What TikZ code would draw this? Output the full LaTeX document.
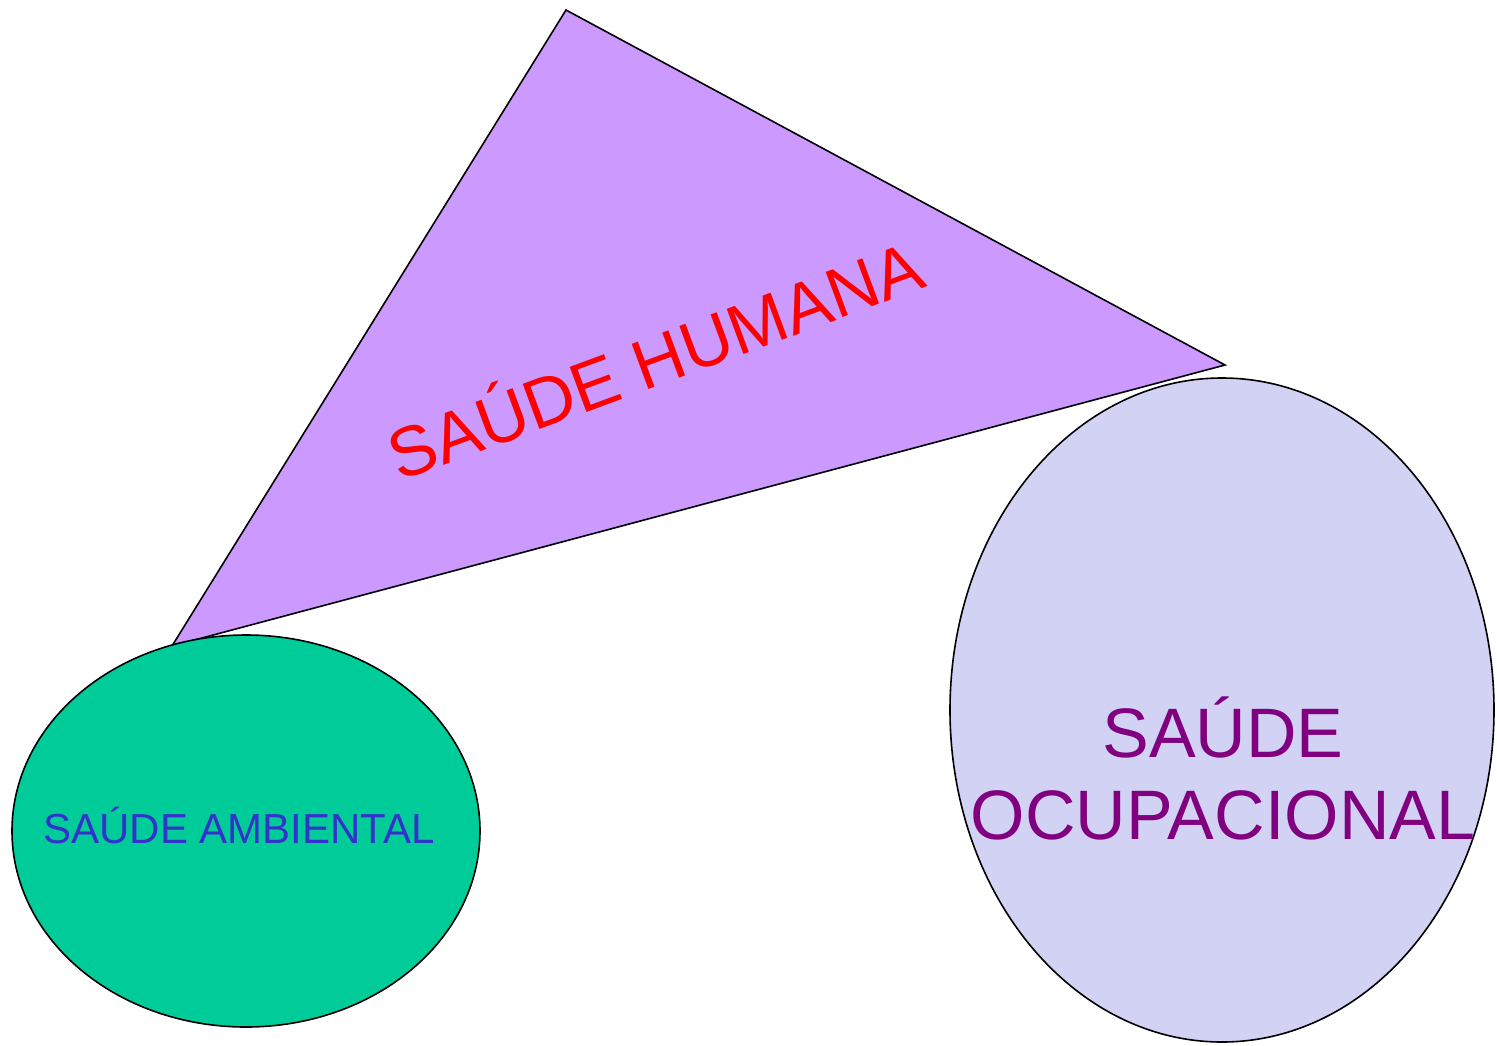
\documentclass[tikz,border=0pt]{standalone}
\usepackage{fontspec}
\setmainfont{Liberation Sans}
\usepackage{xcolor}
\usepackage{tikz}
\usetikzlibrary{positioning}

\definecolor{lilac}{HTML}{CC99FF}
\definecolor{seagreen}{HTML}{00CC99}
\definecolor{paleblue}{HTML}{D2D2F4}
\definecolor{ambblue}{HTML}{3333CC}
\definecolor{ocupurple}{HTML}{800080}

\begin{document}
\begin{tikzpicture}[x=1pt, y=-1pt]
  % Styles
  \tikzstyle{area}=[draw=black, line width=1.6pt]
  \tikzstyle{lab}=[inner sep=0pt, anchor=base, align=center]

  \useasboundingbox (0,0) rectangle (1497,1045);

  % Triangle: saude humana
  \coordinate (h_top) at (566,10);
  \coordinate (h_right) at (1225,365);
  \coordinate (h_left) at (172,646);
  \draw[area, fill=lilac, line join=miter] (h_top) -- (h_right) -- (h_left) -- cycle;

  \node[lab, rotate=20.3, text=red, font=\fontsize{70}{74}\selectfont] (humana) at (664,384) {SAÚDE HUMANA};

  % Left ellipse: saude ambiental
  \draw[area, fill=seagreen] (246,831) ellipse [x radius=234pt, y radius=196pt];
  \node[lab, text=ambblue, font=\fontsize{42}{48}\selectfont] (ambiental) at (239,843) {SAÚDE AMBIENTAL};

  % Right ellipse: saude ocupacional
  \draw[area, fill=paleblue] (1222,710) ellipse [x radius=272pt, y radius=332pt];
  \node[lab, text=ocupurple, font=\fontsize{70}{82}\selectfont] (ocupacional) at (1223,839) {SAÚDE\\OCUPACIONAL};
\end{tikzpicture}
\end{document}
